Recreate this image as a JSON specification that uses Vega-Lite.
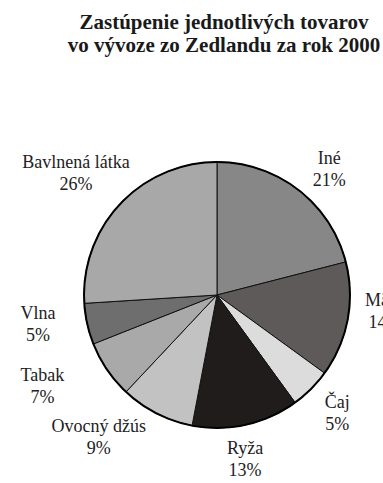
{
  "$schema": "https://vega.github.io/schema/vega-lite/v6.json",
  "width": 332,
  "height": 370,
  "autosize": {"type": "none"},
  "padding": {"left": 51, "top": 110, "right": 0, "bottom": 3},
  "background": "white",
  "config": {"font": "'Liberation Serif', 'Times New Roman', serif"},
  "title": {
    "text": ["Zastúpenie jednotlivých tovarov", "vo vývoze zo Zedlandu za rok 2000"],
    "font": "'Liberation Serif', 'Times New Roman', serif",
    "fontSize": 21,
    "fontWeight": "bold",
    "color": "#1a1a1a",
    "anchor": "middle",
    "frame": "group",
    "dx": 7,
    "offset": 54,
    "lineHeight": 23
  },
  "data": {
    "values": [
      {"name": "Iné", "share": 0.21},
      {"name": "Mäso", "share": 0.14},
      {"name": "Čaj", "share": 0.05},
      {"name": "Ryža", "share": 0.13},
      {"name": "Ovocný džús", "share": 0.09},
      {"name": "Tabak", "share": 0.07},
      {"name": "Vlna", "share": 0.05},
      {"name": "Bavlnená látka", "share": 0.26}
    ]
  },
  "transform": [
    {"window": [{"op": "row_number", "as": "idx"}]},
    {"stack": "share", "groupby": [], "sort": [{"field": "idx", "order": "ascending"}], "as": ["s0", "s1"]},
    {"calculate": "(datum.s0 + datum.s1) / 2", "as": "mid"},
    {"calculate": "datum.name + '\\n' + format(datum.share, '.0%')", "as": "label"}
  ],
  "layer": [
    {
      "mark": {"type": "arc", "outerRadius": 133, "stroke": "#111", "strokeWidth": 1},
      "encoding": {
        "theta": {"field": "s0", "type": "quantitative", "scale": {"domain": [0, 1]}},
        "theta2": {"field": "s1"},
        "color": {
          "field": "name",
          "type": "nominal",
          "legend": null,
          "scale": {
            "domain": ["Iné", "Mäso", "Čaj", "Ryža", "Ovocný džús", "Tabak", "Vlna", "Bavlnená látka"],
            "range": ["#878787", "#5e5a59", "#dcdcdc", "#201c1b", "#c2c2c2", "#a9a9a9", "#6e6e6e", "#a8a8a8"]
          }
        }
      }
    },
    {
      "data": {"values": [{}]},
      "mark": {"type": "arc", "outerRadius": 133, "theta": 0, "theta2": 6.2832, "fill": null, "filled": false, "stroke": "#000", "strokeWidth": 2},
      "encoding": {}
    },
    {
      "transform": [{"filter": "datum.name == 'Iné'"}],
      "mark": {"type": "text", "radius": 170, "dx": 8, "dy": -2, "font": "'Liberation Serif', 'Times New Roman', serif", "fontSize": 18, "lineHeight": 22, "color": "#222", "align": "center", "baseline": "middle", "lineBreak": "\n"},
      "encoding": {"theta": {"field": "mid", "type": "quantitative", "scale": {"domain": [0, 1]}}, "text": {"field": "label"}}
    },
    {
      "transform": [{"filter": "datum.name == 'Mäso'"}],
      "mark": {"type": "text", "radius": 170, "dx": 1, "dy": -26, "font": "'Liberation Serif', 'Times New Roman', serif", "fontSize": 18, "lineHeight": 22, "color": "#222", "align": "center", "baseline": "middle", "lineBreak": "\n"},
      "encoding": {"theta": {"field": "mid", "type": "quantitative", "scale": {"domain": [0, 1]}}, "text": {"field": "label"}}
    },
    {
      "transform": [{"filter": "datum.name == 'Čaj'"}],
      "mark": {"type": "text", "radius": 170, "dx": 0, "dy": -12, "font": "'Liberation Serif', 'Times New Roman', serif", "fontSize": 18, "lineHeight": 22, "color": "#222", "align": "center", "baseline": "middle", "lineBreak": "\n"},
      "encoding": {"theta": {"field": "mid", "type": "quantitative", "scale": {"domain": [0, 1]}}, "text": {"field": "label"}}
    },
    {
      "transform": [{"filter": "datum.name == 'Ryža'"}],
      "mark": {"type": "text", "radius": 170, "dx": -9, "dy": -12, "font": "'Liberation Serif', 'Times New Roman', serif", "fontSize": 18, "lineHeight": 22, "color": "#222", "align": "center", "baseline": "middle", "lineBreak": "\n"},
      "encoding": {"theta": {"field": "mid", "type": "quantitative", "scale": {"domain": [0, 1]}}, "text": {"field": "label"}}
    },
    {
      "transform": [{"filter": "datum.name == 'Ovocný džús'"}],
      "mark": {"type": "text", "radius": 170, "dx": -41, "dy": -19, "font": "'Liberation Serif', 'Times New Roman', serif", "fontSize": 18, "lineHeight": 22, "color": "#222", "align": "center", "baseline": "middle", "lineBreak": "\n"},
      "encoding": {"theta": {"field": "mid", "type": "quantitative", "scale": {"domain": [0, 1]}}, "text": {"field": "label"}}
    },
    {
      "transform": [{"filter": "datum.name == 'Tabak'"}],
      "mark": {"type": "text", "radius": 170, "dx": -34, "dy": -15, "font": "'Liberation Serif', 'Times New Roman', serif", "fontSize": 18, "lineHeight": 22, "color": "#222", "align": "center", "baseline": "middle", "lineBreak": "\n"},
      "encoding": {"theta": {"field": "mid", "type": "quantitative", "scale": {"domain": [0, 1]}}, "text": {"field": "label"}}
    },
    {
      "transform": [{"filter": "datum.name == 'Vlna'"}],
      "mark": {"type": "text", "radius": 170, "dx": -13, "dy": -18, "font": "'Liberation Serif', 'Times New Roman', serif", "fontSize": 18, "lineHeight": 22, "color": "#222", "align": "center", "baseline": "middle", "lineBreak": "\n"},
      "encoding": {"theta": {"field": "mid", "type": "quantitative", "scale": {"domain": [0, 1]}}, "text": {"field": "label"}}
    },
    {
      "transform": [{"filter": "datum.name == 'Bavlnená látka'"}],
      "mark": {"type": "text", "radius": 170, "dx": -17, "dy": -16, "font": "'Liberation Serif', 'Times New Roman', serif", "fontSize": 18, "lineHeight": 22, "color": "#222", "align": "center", "baseline": "middle", "lineBreak": "\n"},
      "encoding": {"theta": {"field": "mid", "type": "quantitative", "scale": {"domain": [0, 1]}}, "text": {"field": "label"}}
    }
  ]
}
